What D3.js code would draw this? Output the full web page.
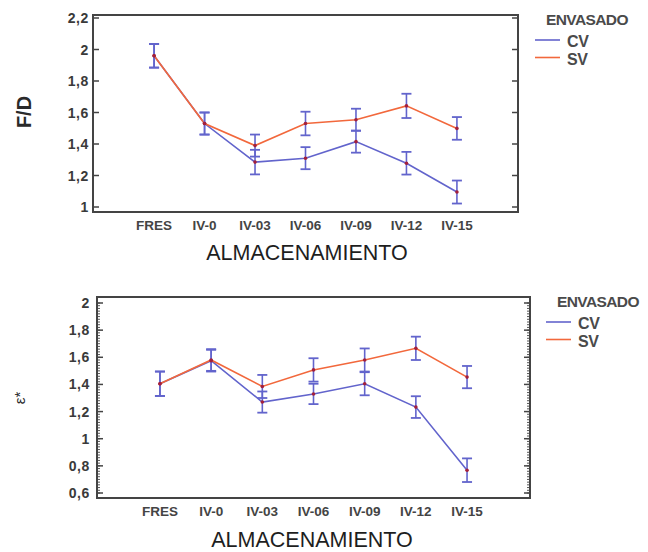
<!DOCTYPE html>
<html>
<head>
<meta charset="utf-8">
<script src="https://cdn.jsdelivr.net/npm/d3@7"></script>
<style>
  body { margin: 0; background: #fff; }
  svg { display: block; font-family: "Liberation Sans", Arial, sans-serif; }
</style>
</head>
<body>
<div id="chart"></div>
<script>
// categories on the x axis (same for both panels)
const categories = ["FRES", "IV-0", "IV-03", "IV-06", "IV-09", "IV-12", "IV-15"];
const seriesNames = ["CV", "SV"];

// F/D panel
const cvFD = [1.96, 1.53, 1.285, 1.31, 1.415, 1.278, 1.095];
const svFD = [1.96, 1.53, 1.39, 1.53, 1.554, 1.642, 1.499];
const cvFDerr = [0.075, 0.07, 0.078, 0.07, 0.07, 0.072, 0.073];
const svFDerr = [0.075, 0.07, 0.07, 0.075, 0.07, 0.077, 0.072];
const fdTicks = [1, 1.2, 1.4, 1.6, 1.8, 2, 2.2];

// e* panel
const cvE = [1.405, 1.575, 1.27, 1.33, 1.405, 1.233, 0.768];
const svE = [1.405, 1.58, 1.385, 1.507, 1.58, 1.666, 1.454];
const cvEerr = [0.09, 0.08, 0.078, 0.075, 0.085, 0.08, 0.087];
const svEerr = [0.09, 0.08, 0.085, 0.086, 0.085, 0.086, 0.082];
const eTicks = [0.6, 0.8, 1, 1.2, 1.4, 1.6, 1.8, 2];

const width = 648, height = 552;
const blue = "#6264cc", orange = "#f2683c", dotColor = "#a3203c";

const svg = d3.select("#chart").append("svg")
    .attr("width", width)
    .attr("height", height);

const fmt = d => String(d).replace(".", ",");

function panel(opt) {
  const g = svg.append("g");
  const x = d3.scalePoint().domain(categories).range([opt.left, opt.right]).padding(opt.pad);
  const y = d3.scaleLinear().domain(opt.domain).range(opt.yRange);

  // minor ticks
  if (opt.minor) {
    const minors = d3.range(opt.domain[0], opt.domain[1] + 1e-9, opt.minor);
    g.selectAll(".minL").data(minors).enter().append("line")
      .attr("x1", opt.left).attr("x2", opt.left + 3)
      .attr("y1", d => y(d)).attr("y2", d => y(d))
      .style("stroke", "#555").style("stroke-width", 1);
    g.selectAll(".minR").data(minors).enter().append("line")
      .attr("x1", opt.right).attr("x2", opt.right - 3)
      .attr("y1", d => y(d)).attr("y2", d => y(d))
      .style("stroke", "#555").style("stroke-width", 1);
  }
  // major ticks, both sides, inside the frame
  g.selectAll(".majL").data(opt.ticks).enter().append("line")
    .attr("x1", opt.left).attr("x2", opt.left + 6)
    .attr("y1", d => y(d)).attr("y2", d => y(d))
    .style("stroke", "#444").style("stroke-width", 1.5);
  g.selectAll(".majR").data(opt.ticks).enter().append("line")
    .attr("x1", opt.right).attr("x2", opt.right - 6)
    .attr("y1", d => y(d)).attr("y2", d => y(d))
    .style("stroke", "#444").style("stroke-width", 1.5);

  // tick labels
  g.selectAll(".ylab").data(opt.ticks).enter().append("text")
    .attr("x", opt.labelX).attr("y", d => y(d) + 5)
    .attr("text-anchor", "end")
    .style("font-size", "14px").style("font-weight", "bold")
    .style("letter-spacing", "0.6px").style("fill", "#3a3a3a")
    .text(fmt);
  g.selectAll(".xlab").data(categories).enter().append("text")
    .attr("x", d => x(d)).attr("y", opt.bottom + 18)
    .attr("text-anchor", "middle")
    .style("font-size", "13.5px").style("font-weight", "bold").style("fill", "#444")
    .text(d => d);

  // frame
  g.append("rect")
    .attr("x", opt.left).attr("y", opt.top)
    .attr("width", opt.right - opt.left).attr("height", opt.bottom - opt.top)
    .style("fill", "none").style("stroke", "#444").style("stroke-width", 2);

  // titles
  g.append("text")
    .attr("x", opt.xTitleX).attr("y", opt.bottom + opt.xTitleDy)
    .attr("text-anchor", "middle")
    .style("font-size", opt.xTitleSize).style("fill", "#1e1e1e")
    .text("ALMACENAMIENTO");
  g.append("text")
    .attr("transform", `translate(${opt.yTitleX},${opt.yTitleY}) rotate(-90)`)
    .attr("text-anchor", "middle")
    .style("font-size", opt.yTitleSize).style("font-weight", opt.yTitleWeight).style("fill", "#2a2a2a")
    .text(opt.yTitle);

  const series = [
    {name: "CV", vals: opt.cv, err: opt.cvErr, color: blue},
    {name: "SV", vals: opt.sv, err: opt.svErr, color: orange}
  ];
  const line = d3.line().x((d, i) => x(categories[i])).y(d => y(d));

  series.forEach(s => {
    g.append("path").datum(s.vals)
      .attr("d", line)
      .style("fill", "none").style("stroke", s.color).style("stroke-width", 1.6);
  });

  // error bars (all blue)
  series.forEach(s => {
    const eb = g.append("g");
    s.vals.forEach((v, i) => {
      const cx = x(categories[i]);
      eb.append("line").attr("x1", cx).attr("x2", cx)
        .attr("y1", y(v - s.err[i])).attr("y2", y(v + s.err[i]))
        .style("stroke", blue).style("stroke-width", 1.6);
      [v - s.err[i], v + s.err[i]].forEach(e => {
        eb.append("line").attr("x1", cx - 5).attr("x2", cx + 5)
          .attr("y1", y(e)).attr("y2", y(e))
          .style("stroke", blue).style("stroke-width", 1.8);
      });
    });
  });

  // mean dots
  series.forEach(s => {
    g.selectAll(null).data(s.vals).enter().append("circle")
      .attr("cx", (d, i) => x(categories[i])).attr("cy", d => y(d))
      .attr("r", 1.8).style("fill", dotColor);
  });

  // legend
  const lg = g.append("g");
  lg.append("text").attr("x", opt.legX + 11).attr("y", opt.legY)
    .style("font-size", "15.5px").style("font-weight", "bold")
    .style("letter-spacing", "-0.6px").style("fill", "#4a4a4a").text("ENVASADO");
  series.forEach((s, i) => {
    const ly = opt.legY + 15 + i * 17.5;
    lg.append("line").attr("x1", opt.legX).attr("x2", opt.legX + 25)
      .attr("y1", ly).attr("y2", ly)
      .style("stroke", s.color).style("stroke-width", 1.6);
    lg.append("text").attr("x", opt.legX + 32).attr("y", ly + 7)
      .style("font-size", "16px").style("font-weight", "bold")
      .style("letter-spacing", "-0.4px").style("fill", "#4a4a4a").text(s.name);
  });
}

panel({
  left: 93, right: 518, top: 15, bottom: 212, pad: 1.21,
  domain: [1, 2.2], yRange: [207, 18], ticks: fdTicks, minor: null,
  cv: cvFD, sv: svFD, cvErr: cvFDerr, svErr: svFDerr,
  labelX: 89,
  xTitleX: 307, xTitleDy: 48, xTitleSize: "21.5px",
  yTitle: "F/D", yTitleX: 31, yTitleY: 112, yTitleSize: "20px", yTitleWeight: "bold",
  legX: 535, legY: 25
});

panel({
  left: 97, right: 530, top: 297, bottom: 498, pad: 1.23,
  domain: [0.6, 2], yRange: [493, 303], ticks: eTicks, minor: 0.02,
  cv: cvE, sv: svE, cvErr: cvEerr, svErr: svEerr,
  labelX: 90,
  xTitleX: 312, xTitleDy: 49, xTitleSize: "21.5px",
  yTitle: "ε*", yTitleX: 25, yTitleY: 398, yTitleSize: "15px", yTitleWeight: "normal",
  legX: 546, legY: 307
});
</script>
</body>
</html>
